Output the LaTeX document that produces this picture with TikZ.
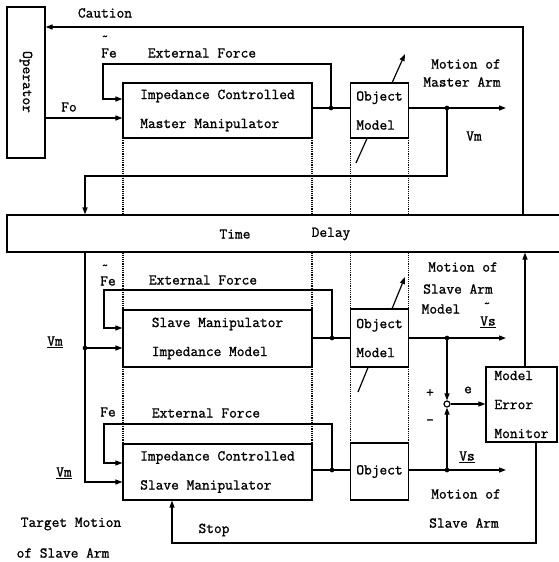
\documentclass[tikz,border=0pt]{standalone}
\usepackage{fontspec}
\usetikzlibrary{arrows.meta}
\newfontfamily\dgtt{Latin Modern Mono}[FakeBold=1.2]
\newcommand\dgfont{\fontsize{15}{29}\selectfont\dgtt}
\newcommand\dgsmall{\fontsize{13}{14}\selectfont\dgtt}
\begin{document}
\begin{tikzpicture}[x=1pt,y=-1pt,
  blk/.style={draw, fill=white, line width=1.2pt, inner sep=0pt, align=left, font=\dgfont},
  lbl/.style={inner sep=0pt, font=\dgfont},
  tld/.style={inner sep=0pt, font=\dgsmall},
  wire/.style={line width=1.2pt},
  arr/.style={wire, -{Triangle[length=7pt,width=5pt]}},
  dotl/.style={line width=1.2pt, densely dotted},
  jdot/.style={circle, fill=black, draw=black, inner sep=0pt, minimum size=4.2pt}]
\useasboundingbox (0,0) rectangle (558,562);

% dotted guide lines
\foreach \xx in {123,312,350.5,408.5} \draw[dotl] (\xx,138) -- (\xx,443);

% diagonal "model" arrows behind the object model boxes
\coordinate (g1a) at (356,163); \coordinate (g1b) at (405,54);
\draw[arr] (g1a) -- (g1b);
\coordinate (g2a) at (358,392); \coordinate (g2b) at (405,277);
\draw[arr] (g2a) -- (g2b);

% blocks
\node[blk, minimum width=38, minimum height=151] (op) at (26,82.5) {};
\node[lbl, rotate=-90] (opt) at (26,82) {Operator};
\node[blk, minimum width=189, minimum height=55] (mm) at (217.5,110.5) {Impedance Controlled\\Master Manipulator};
\node[blk, minimum width=58, minimum height=55] (om1) at (379.5,110.5) {Object\\Model};
\node[blk, minimum width=558, minimum height=37] (td) at (286,233.5) {};
\node[lbl] (tdt) at (235,234) {Time};
\node[lbl] (tdd) at (331,234) {Delay};
\node[blk, minimum width=189, minimum height=57] (sm) at (217.5,338.5) {Slave Manipulator\\Impedance Model};
\node[blk, minimum width=58, minimum height=58] (om2) at (379.5,338) {Object\\Model};
\node[blk, minimum width=189, minimum height=56] (sb) at (217.5,472) {Impedance Controlled\\Slave Manipulator};
\node[blk, minimum width=58, minimum height=57] (ob) at (379.5,471.5) {Object};
\node[blk, minimum width=71, minimum height=75] (mem) at (521.5,404.5) {Model\\Error\\Monitor};
\node[draw, fill=white, circle, line width=1.2pt, inner sep=0pt, minimum size=6pt] (sj) at (447,404) {};

% caution
\coordinate (cA) at (523,27);
\draw[arr] (td.north -| cA) -- (cA) -- (op.east |- cA);
% Fo
\coordinate (fo) at (45,118);
\draw[arr] (op.east |- fo) -- (mm.west |- fo);
% master loop
\coordinate (d1) at (331,108);
\coordinate (f1a) at (103,64); \coordinate (f1b) at (103,99);
\draw[wire] (mm.east |- d1) -- (om1.west |- d1);
\draw[arr] (d1) |- (f1a) -- (f1b) -- (mm.west |- f1b);
% master output
\coordinate (o1) at (506,108);
\draw[arr] (om1.east |- o1) -- (o1);
\coordinate (d2) at (447,108);
\coordinate (r1) at (447,176); \coordinate (r2) at (85,176);
\draw[arr] (d2) -- (r1) -- (r2) -- (r2 |- td.north);
% Vm to slave
\coordinate (v1) at (85,482);
\draw[arr] (v1 |- td.south) -- (v1) -- (sb.west |- v1);
\coordinate (d3) at (85,348);
\draw[arr] (d3) -- (sm.west |- d3);
% slave model loop
\coordinate (d4) at (332,338);
\coordinate (f2a) at (104,290); \coordinate (f2b) at (104,328);
\draw[wire] (sm.east |- d4) -- (om2.west |- d4);
\draw[arr] (d4) |- (f2a) -- (f2b) -- (sm.west |- f2b);
\coordinate (o2) at (506,338);
\draw[arr] (om2.east |- o2) -- (o2);
\coordinate (d5) at (447,338);
\draw[arr] (d5) -- (sj.north);
% slave loop
\coordinate (d6) at (332,470);
\coordinate (f3a) at (104,424); \coordinate (f3b) at (104,463);
\draw[wire] (sb.east |- d6) -- (ob.west |- d6);
\draw[arr] (d6) |- (f3a) -- (f3b) -- (sb.west |- f3b);
\coordinate (o3) at (506,470);
\draw[arr] (ob.east |- o3) -- (o3);
\coordinate (d7) at (447,470);
\draw[arr] (d7) -- (sj.south);
\draw[arr] (sj.east) -- (mem.west |- sj);
% monitor to time delay
\coordinate (u1) at (525,367);
\draw[arr] (mem.north -| u1) -- (u1 |- td.south);
% stop
\coordinate (s1) at (536,543); \coordinate (s2) at (172,543);
\draw[arr] (mem.south -| s1) -- (s1) -- (s2) -- (s2 |- sb.south);

% junction dots (drawn on top)
\foreach \dd in {d1,d2,d3,d4,d5,d6,d7} \node[jdot] at (\dd) {};

% labels
\node[lbl] (lcau) at (105,13) {Caution};
\node[lbl] (lfo) at (69,107) {Fo};
\node[tld] (lt1) at (105,38) {\textasciitilde};
\node[lbl] (lfe1) at (109,53) {Fe};
\node[lbl] (lef1) at (202,53) {External Force};
\node[lbl] (lmm1) at (466,64) {Motion of};
\node[lbl] (lmm2) at (462,82) {Master Arm};
\node[lbl] (lvm0) at (474,136) {Vm};
\node[tld] (lt2) at (105,267) {\textasciitilde};
\node[lbl] (lfe2) at (108,281) {Fe};
\node[lbl] (lef2) at (203,280) {External Force};
\node[lbl] (lvm1) at (55,342) {\underline{Vm}};
\node[lbl] (lms1) at (463,267) {Motion of};
\node[lbl] (lms2) at (458,289) {Slave Arm};
\node[lbl] (lms3) at (441,309) {Model};
\node[tld] (lt3) at (487,305) {\textasciitilde};
\node[lbl] (lvs1) at (488,322) {\underline{Vs}};
\node[lbl] (lfe3) at (108,412) {Fe};
\node[lbl] (lef3) at (206,413) {External Force};
\node[lbl] (lvm2) at (64,473) {\underline{Vm}};
\node[lbl] (lplus) at (430,393) {+};
\node[lbl] (lminus) at (430,422) {-};
\node[lbl] (le) at (468,390) {e};
\node[lbl] (lvs2) at (467,457) {\underline{Vs}};
\node[lbl] (lsa1) at (466,494) {Motion of};
\node[lbl] (lsa2) at (464,523) {Slave Arm};
\node[lbl] (lstop) at (214,530) {Stop};
\node[lbl] (ltm1) at (71,524) {Target Motion};
\node[lbl] (ltm2) at (63,553) {of Slave Arm};
\end{tikzpicture}
\end{document}
